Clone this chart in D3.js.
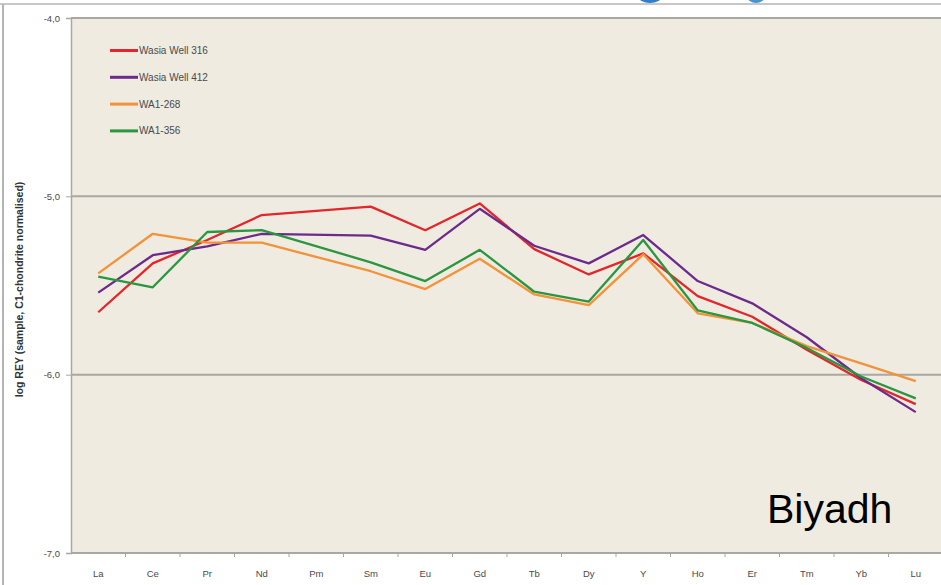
<!DOCTYPE html>
<html>
<head>
<meta charset="utf-8">
<script src="https://cdn.jsdelivr.net/npm/d3@7"></script>
<style>
  html, body { margin: 0; padding: 0; background: #ffffff; }
  svg { display: block; }
</style>
</head>
<body>
<svg id="chart" width="941" height="585"></svg>
<script>
// Rare earth elements + yttrium, in plotting order
const elements = ["La", "Ce", "Pr", "Nd", "Pm", "Sm", "Eu", "Gd", "Tb", "Dy", "Y", "Ho", "Er", "Tm", "Yb", "Lu"];

// log REY (sample / C1 chondrite); Pm not measured
const wasia316 = [-5.65, -5.376, -5.245, -5.105, null, -5.058, -5.19, -5.04, -5.296, -5.438, -5.32, -5.56, -5.675, -5.86, -6.03, -6.165];
const wasia412 = [-5.54, -5.33, -5.28, -5.21, null, -5.22, -5.30, -5.07, -5.277, -5.376, -5.217, -5.475, -5.60, -5.79, -6.02, -6.21];
const wa1_268  = [-5.432, -5.21, -5.26, -5.26, null, -5.42, -5.52, -5.35, -5.55, -5.61, -5.325, -5.656, -5.71, -5.84, -5.937, -6.036];
const wa1_356  = [-5.45, -5.51, -5.20, -5.19, null, -5.37, -5.475, -5.30, -5.535, -5.59, -5.245, -5.64, -5.71, -5.85, -6.01, -6.133];

const seriesNames = ["Wasia Well 316", "Wasia Well 412", "WA1-268", "WA1-356"];
const seriesColors = ["#e3262b", "#6b2a8c", "#f39238", "#2a9640"];
const seriesValues = [wasia316, wasia412, wa1_268, wa1_356];

const yTicks = [-4.0, -5.0, -6.0, -7.0];

const svg = d3.select("#chart");
const W = 941, H = 585;

// outer frame
svg.append("rect").attr("x", 0).attr("y", 0).attr("width", W).attr("height", H).attr("fill", "#ffffff");
// partly visible logo above the frame
svg.append("ellipse").attr("cx", 650).attr("cy", -4).attr("rx", 12).attr("ry", 7).attr("fill", "#2e7fc4");
svg.append("ellipse").attr("cx", 756).attr("cy", -4).attr("rx", 9).attr("ry", 7).attr("fill", "#4a95d0");
svg.append("line").attr("x1", 0).attr("x2", W).attr("y1", 4).attr("y2", 4).attr("stroke", "#b4b4b4").attr("stroke-width", 1.5);
svg.append("line").attr("x1", 3).attr("x2", 3).attr("y1", 4).attr("y2", H).attr("stroke", "#b4b4b4").attr("stroke-width", 2);

const plotLeft = 71, plotTop = 18, plotBottom = 553;
const bandW = 54.5;
const plotRight = plotLeft + bandW * elements.length;

const x = d3.scalePoint().domain(elements).range([plotLeft + bandW / 2, plotRight - bandW / 2]);
const y = d3.scaleLinear().domain([-7, -4]).range([plotBottom, plotTop]);

// plot background
svg.append("rect").attr("x", plotLeft).attr("y", plotTop).attr("width", plotRight - plotLeft).attr("height", plotBottom - plotTop).attr("fill", "#efebe0");

// horizontal gridlines
svg.append("g").selectAll("line").data(yTicks.filter(d => d > -7)).join("line")
  .attr("x1", plotLeft).attr("x2", plotRight)
  .attr("y1", d => y(d)).attr("y2", d => y(d))
  .attr("stroke", "#a9a7a2").attr("stroke-width", 2);

// y axis
const fmt = d => d.toFixed(1).replace(".", ",");
const yAxis = svg.append("g").attr("transform", `translate(${plotLeft},0)`)
  .call(d3.axisLeft(y).tickValues(yTicks).tickFormat(fmt).tickSize(5).tickPadding(6));
yAxis.select(".domain").attr("stroke", "#a9a7a2").attr("stroke-width", 1.5);
yAxis.selectAll(".tick line").attr("stroke", "#a9a7a2");
yAxis.selectAll(".tick text").attr("fill", "#4a4a4a").attr("font-family", "Liberation Sans, Arial, sans-serif").attr("font-size", 9.5);

// x axis with ticks at category boundaries
const xg = svg.append("g").attr("transform", `translate(0,${plotBottom})`);
xg.append("line").attr("x1", plotLeft).attr("x2", plotRight).attr("stroke", "#a9a7a2").attr("stroke-width", 2);
xg.selectAll("line.tk").data(d3.range(1, elements.length)).join("line").attr("class", "tk")
  .attr("x1", i => plotLeft + i * bandW).attr("x2", i => plotLeft + i * bandW)
  .attr("y1", 0).attr("y2", 4).attr("stroke", "#a9a7a2");
xg.selectAll("text").data(elements).join("text")
  .attr("x", d => x(d)).attr("y", 24)
  .attr("text-anchor", "middle")
  .attr("fill", "#4a4a4a").attr("font-family", "Liberation Sans, Arial, sans-serif").attr("font-size", 9.5)
  .text(d => d);

// y axis title
svg.append("text")
  .attr("transform", `translate(23,${(plotTop + plotBottom) / 2 + 4}) rotate(-90)`)
  .attr("text-anchor", "middle")
  .attr("fill", "#333").attr("font-family", "Liberation Sans, Arial, sans-serif")
  .attr("font-size", 10.5).attr("font-weight", "bold")
  .text("log REY (sample, C1-chondrite normalised)");

// series lines (Pm gap bridged by a straight segment)
const line = d3.line()
  .x(d => x(d.el))
  .y(d => y(d.v));

seriesValues.forEach((vals, i) => {
  const pts = elements.map((el, j) => ({ el, v: vals[j] })).filter(d => d.v !== null);
  svg.append("path").datum(pts)
    .attr("fill", "none")
    .attr("stroke", seriesColors[i])
    .attr("stroke-width", 2.3)
    .attr("stroke-linejoin", "round")
    .attr("d", line);
});

// legend
const lg = svg.append("g");
seriesNames.forEach((name, i) => {
  const ly = 50.5 + i * 26.8;
  lg.append("line").attr("x1", 110).attr("x2", 138).attr("y1", ly).attr("y2", ly)
    .attr("stroke", seriesColors[i]).attr("stroke-width", 3);
  lg.append("text").attr("x", 139).attr("y", ly + 3.5)
    .attr("fill", "#4a4a4a").attr("font-family", "Liberation Sans, Arial, sans-serif").attr("font-size", 10)
    .text(name);
});

// location label
svg.append("text").attr("x", 767).attr("y", 523)
  .attr("fill", "#000").attr("font-family", "Liberation Sans, Arial, sans-serif").attr("font-size", 41)
  .text("Biyadh");
</script>
</body>
</html>
